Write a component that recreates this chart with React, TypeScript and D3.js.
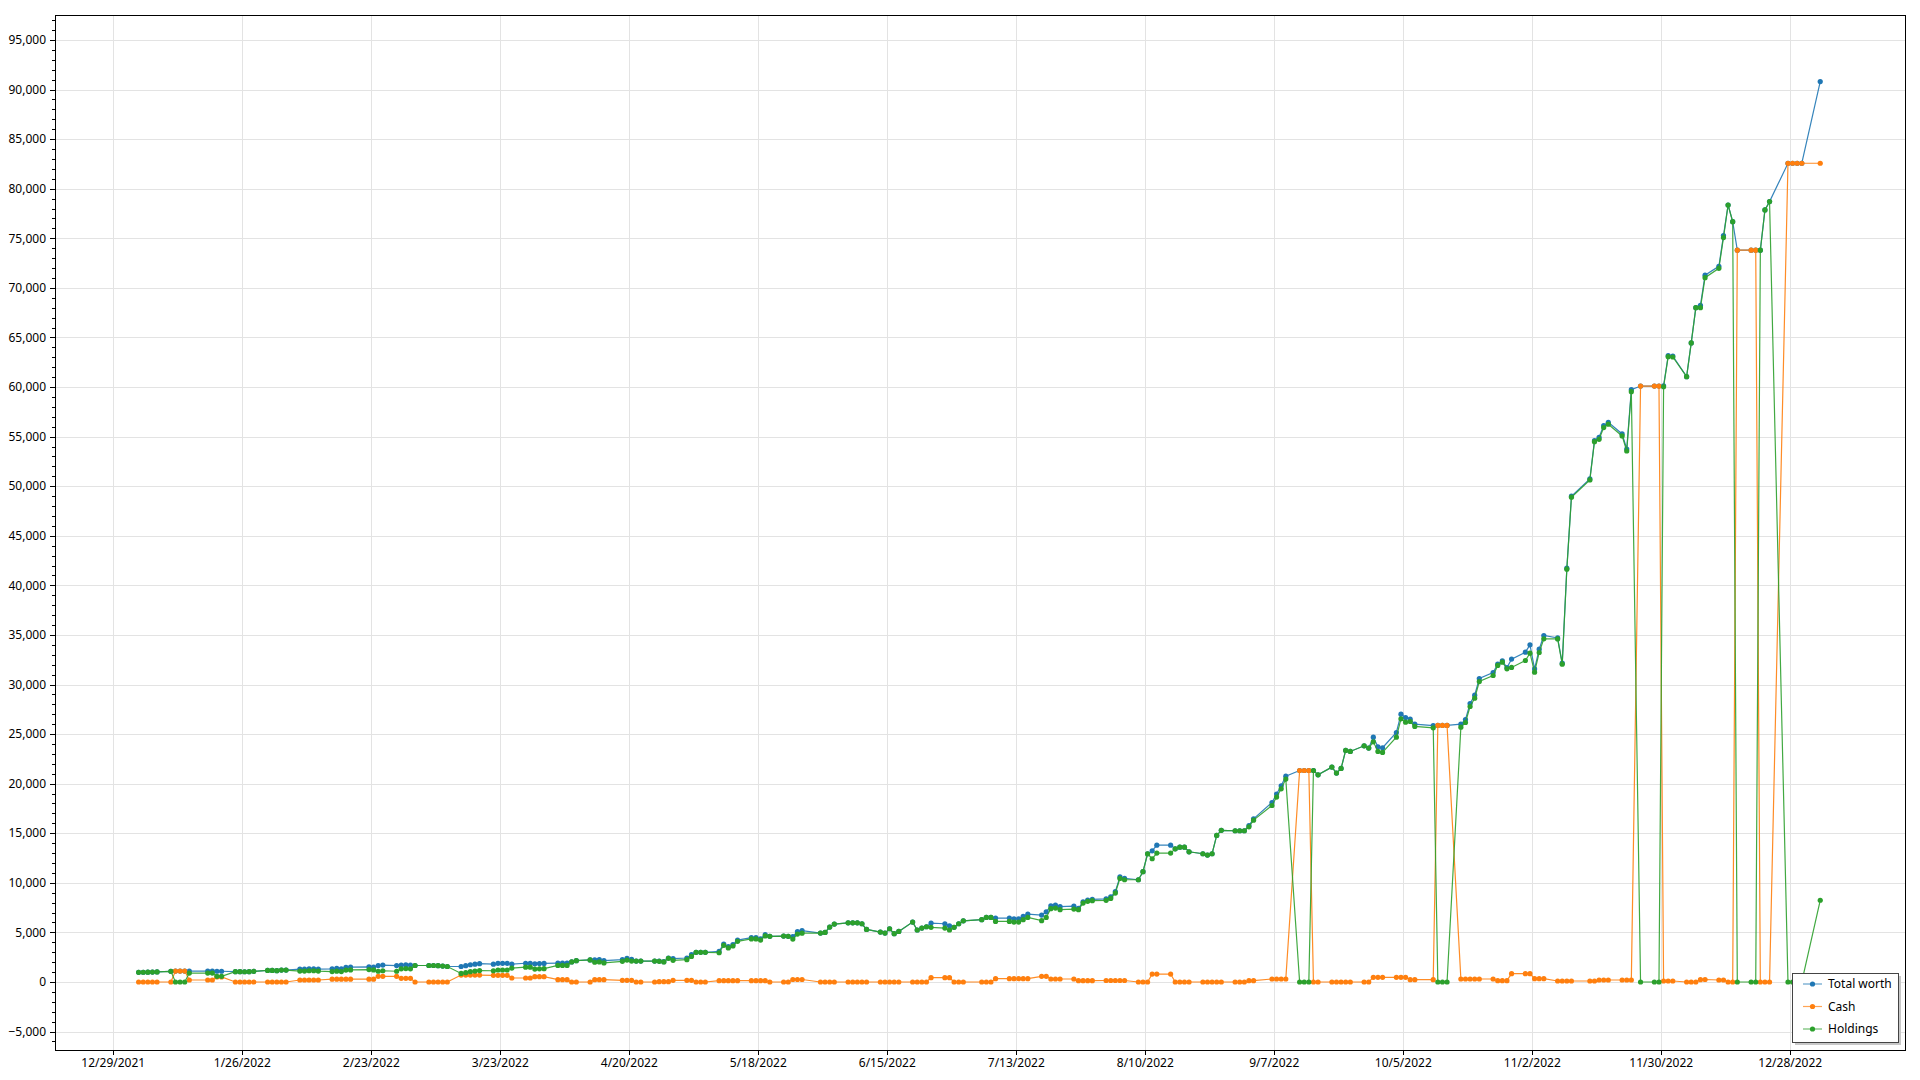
import React from "react";
import * as d3 from "d3";

const W = 1920;
const H = 1080;
const plot = { left: 55, top: 15, right: 1905, bottom: 1050 };

// trading days present in the export, by month
const tradingDays: [string, number[]][] = [
  ["2022-01", [3, 4, 5, 6, 7, 10, 11, 12, 13, 14, 18, 19, 20, 21, 24, 25, 26, 27, 28, 31]],
  ["2022-02", [1, 2, 3, 4, 7, 8, 9, 10, 11, 14, 15, 16, 17, 18, 22, 23, 24, 25, 28]],
  ["2022-03", [1, 2, 3, 4, 7, 8, 9, 10, 11, 14, 15, 16, 17, 18, 21, 22, 23, 24, 25, 28, 29, 30, 31]],
  ["2022-04", [1, 4, 5, 6, 7, 8, 11, 12, 13, 14, 18, 19, 20, 21, 22, 25, 26, 27, 28, 29]],
  ["2022-05", [2, 3, 4, 5, 6, 9, 10, 11, 12, 13, 16, 17, 18, 19, 20, 23, 24, 25, 26, 27, 31]],
  ["2022-06", [1, 2, 3, 6, 7, 8, 9, 10, 13, 14, 15, 16, 17, 20, 21, 22, 23, 24, 27, 28, 29, 30]],
  ["2022-07", [1, 5, 6, 7, 8, 11, 12, 13, 14, 15, 18, 19, 20, 21, 22, 25, 26, 27, 28, 29]],
  ["2022-08", [1, 2, 3, 4, 5, 8, 9, 10, 11, 12, 15, 16, 17, 18, 19, 22, 23, 24, 25, 26, 29, 30, 31]],
  ["2022-09", [1, 2, 6, 7, 8, 9, 12, 13, 14, 15, 16, 19, 20, 21, 22, 23, 26, 27, 28, 29, 30]],
  ["2022-10", [3, 4, 5, 6, 7, 11, 12, 13, 14, 17, 18, 19, 20, 21, 24, 25, 26, 27, 28, 31]],
  ["2022-11", [1, 2, 3, 4, 7, 8, 9, 10, 14, 15, 16, 17, 18, 21, 22, 23, 25, 28, 29, 30]],
  ["2022-12", [1, 2, 5, 6, 7, 8, 9, 12, 13, 14, 15, 16, 19, 20, 21, 22, 23, 27, 28, 29, 30]],
  ["2023-01", [3]],
];

const totalWorth: number[] = [
  // jan
  970, 980, 990, 1000, 1010, 1070, 1100, 1100, 1100, 1100, 1100, 1100, 1080, 1080, 1040, 1040, 1030, 1040, 1070, 1170,
  // feb
  1170, 1140, 1200, 1200, 1300, 1300, 1330, 1330, 1300, 1330, 1370, 1330, 1480, 1500, 1530, 1500, 1650, 1700, 1650,
  // mar
  1700, 1720, 1700, 1660, 1660, 1660, 1640, 1600, 1560, 1560, 1640, 1740, 1800, 1850, 1800, 1880, 1880, 1880, 1800, 1890, 1890, 1830, 1860,
  // apr
  1870, 1900, 1900, 1900, 2020, 2150, 2220, 2220, 2250, 2150, 2250, 2380, 2280, 2110, 2110, 2110, 2110, 2050, 2420, 2350,
  // may
  2420, 2750, 2990, 2990, 2990, 3080, 3830, 3560, 3760, 4230, 4470, 4470, 4360, 4770, 4600, 4630, 4600, 4580, 5080, 5170, 4930,
  // jun
  5000, 5540, 5840, 5970, 5970, 5970, 5870, 5300, 5030, 4930, 5370, 4870, 5100, 6040, 5240, 5440, 5570, 5940, 5870, 5670, 5510, 5870,
  // jul
  6170, 6280, 6510, 6510, 6440, 6440, 6370, 6370, 6610, 6840, 6750, 7080, 7690, 7750, 7590, 7650, 7420, 8090, 8260, 8330,
  // aug
  8380, 8580, 9120, 10590, 10460, 10310, 11120, 12930, 13230, 13800, 13800, 13430, 13600, 13600, 13130, 12930, 12800, 12930, 14780, 15290, 15250, 15250, 15250,
  // sep
  15780, 16450, 18100, 18950, 19780, 20760, 21330, 21330, 21330, 21330, 20890, 21670, 21070, 21540, 23350, 23250, 23820, 23590, 24690, 23720, 23620,
  // oct
  25160, 27010, 26670, 26500, 26000, 25860, 25870, 25870, 25870, 26000, 26470, 28080, 28920, 30600, 31210, 32050, 32380, 31710, 32560, 33260,
  // nov
  34000, 31570, 33560, 34940, 34700, 32150, 41730, 48990, 50730, 54590, 54930, 56110, 56450, 55270, 53750, 59730, 60100, 60100, 60100, 60130,
  // dec
  63160, 63130, 61050, 64450, 68000, 68230, 71280, 72170, 75270, 78360, 76680, 73800, 73800, 73800, 73800, 77860, 78700, 82570, 82570, 82570, 82570,
  // jan 2023
  90810,
];

const cash: number[] = [
  0, 0, 0, 0, 0, 0, 1100, 1100, 1100, 200, 200, 200, 510, 510, 0, 0, 0, 0, 0, 0,
  0, 0, 0, 0, 200, 200, 200, 200, 200, 280, 280, 280, 280, 280, 280, 280, 570, 570, 570,
  370, 370, 370, 0, 0, 0, 0, 0, 0, 700, 700, 700, 700, 700, 670, 670, 670, 670, 400, 400, 400, 530, 530,
  530, 230, 230, 230, 0, 0, 0, 230, 230, 230, 170, 170, 170, 0, 0, 0, 30, 30, 30, 170,
  170, 170, 0, 0, 0, 130, 130, 130, 130, 130, 130, 130, 130, 130, 0, 0, 0, 250, 250, 250, 0,
  0, 0, 0, 0, 0, 0, 0, 0, 0, 0, 0, 0, 0, 0, 0, 0, 0, 430, 430, 430, 0, 0,
  0, 0, 0, 0, 330, 330, 330, 330, 330, 330, 570, 570, 300, 300, 300, 300, 130, 130, 130, 130,
  150, 150, 150, 150, 150, 0, 0, 0, 800, 800, 800, 0, 0, 0, 0, 0, 0, 0, 0, 0, 0, 0, 0,
  130, 130, 300, 300, 300, 300, 21330, 21330, 21330, 0, 0, 0, 0, 0, 0, 0, 0, 0, 470, 470, 470,
  470, 470, 470, 230, 230, 230, 25870, 25870, 25870, 300, 300, 300, 300, 300, 300, 130, 130, 130, 840, 840,
  840, 330, 330, 330, 100, 100, 100, 100, 100, 100, 200, 200, 200, 200, 200, 200, 60100, 60100, 60100, 100,
  100, 100, 0, 0, 0, 230, 250, 200, 200, 0, 0, 73800, 73800, 73800, 0, 0, 0, 82570, 82570, 82570, 82570,
  82570,
];

const holdings: number[] = [
  970, 980, 990, 1000, 1010, 1070, 0, 0, 0, 900, 900, 900, 570, 570, 1040, 1040, 1030, 1040, 1070, 1170,
  1170, 1140, 1200, 1200, 1100, 1100, 1130, 1130, 1100, 1050, 1090, 1050, 1200, 1220, 1250, 1220, 1080, 1130, 1080,
  1330, 1350, 1330, 1660, 1660, 1660, 1640, 1600, 1560, 860, 940, 1040, 1100, 1150, 1130, 1210, 1210, 1210, 1400, 1490, 1490, 1300, 1330,
  1340, 1670, 1670, 1670, 2020, 2150, 2220, 1990, 2020, 1920, 2080, 2210, 2110, 2110, 2110, 2110, 2080, 2020, 2390, 2180,
  2250, 2580, 2990, 2990, 2990, 2950, 3700, 3430, 3630, 4100, 4340, 4340, 4230, 4640, 4600, 4630, 4600, 4330, 4830, 4920, 4930,
  5000, 5540, 5840, 5970, 5970, 5970, 5870, 5300, 5030, 4930, 5370, 4870, 5100, 6040, 5240, 5440, 5570, 5510, 5440, 5240, 5510, 5870,
  6170, 6280, 6510, 6510, 6110, 6110, 6040, 6040, 6280, 6510, 6180, 6510, 7390, 7450, 7290, 7350, 7290, 7960, 8130, 8200,
  8230, 8430, 8970, 10440, 10310, 10310, 11120, 12930, 12430, 13000, 13000, 13430, 13600, 13600, 13130, 12930, 12800, 12930, 14780, 15290, 15250, 15250, 15250,
  15650, 16320, 17800, 18650, 19480, 20460, 0, 0, 0, 21330, 20890, 21670, 21070, 21540, 23350, 23250, 23820, 23590, 24220, 23250, 23150,
  24690, 26540, 26200, 26270, 25770, 25630, 0, 0, 0, 25700, 26170, 27780, 28620, 30300, 30910, 31920, 32250, 31580, 31720, 32420,
  33160, 31240, 33230, 34610, 34600, 32050, 41630, 48890, 50630, 54490, 54730, 55910, 56250, 55070, 53550, 59530, 0, 0, 0, 60030,
  63060, 63030, 61050, 64450, 68000, 68000, 71030, 71970, 75070, 78360, 76680, 0, 0, 0, 73800, 77860, 78700, 0, 0, 0, 0,
  8240,
];

const seriesNames = ["Total worth", "Cash", "Holdings"];
const seriesColors = ["#1f77b4", "#ff7f0e", "#2ca02c"];

const DAY = 86400000;
const firstTick = Date.UTC(2021, 11, 29);

const dates = tradingDays.flatMap(([ym, days]) =>
  days.map((d) => new Date(Date.UTC(+ym.slice(0, 4), +ym.slice(5) - 1, d, 12)))
);

const font = "'Segoe UI', 'Noto Sans', sans-serif";

export default function App() {
  const x = d3
    .scaleUtc()
    .domain([new Date(firstTick - 12.65 * DAY), new Date(firstTick + 388.9 * DAY)])
    .range([plot.left, plot.right]);
  const y = d3.scaleLinear().domain([-6860, 97520]).range([plot.bottom, plot.top]);

  const xTicks = d3.range(0, 365, 28).map((i) => new Date(firstTick + i * DAY));
  const yTicks = d3.range(-5000, 95001, 5000);
  const yMinor = d3.range(-6000, 97001, 1000).filter((v) => v % 5000 !== 0);
  const fmtDate = d3.utcFormat("%-m/%-d/%Y");
  const fmtNum = d3.format(",");

  const series = [totalWorth, cash, holdings];
  const line = d3
    .line<number>()
    .x((_, i) => x(dates[i]))
    .y((v) => y(v));

  const lg = { x: 1792, y: 973, w: 106, h: 69 };

  return (
    <svg
      width={W}
      height={H}
      style={{ position: "absolute", left: 0, top: 0, background: "#fff" }}
      fontFamily={font}
      fontSize={12}
    >
      <rect width={W} height={H} fill="#fff" />
      <clipPath id="plotClip">
        <rect x={plot.left} y={plot.top} width={plot.right - plot.left} height={plot.bottom - plot.top} />
      </clipPath>

      {/* grid */}
      <g stroke="#e3e3e3" strokeWidth={1}>
        {yTicks.map((v) => (
          <line key={v} x1={plot.left} x2={plot.right} y1={Math.round(y(v)) + 0.5} y2={Math.round(y(v)) + 0.5} />
        ))}
        {xTicks.map((d) => (
          <line key={+d} y1={plot.top} y2={plot.bottom} x1={Math.round(x(d)) + 0.5} x2={Math.round(x(d)) + 0.5} />
        ))}
      </g>

      {/* series */}
      <g clipPath="url(#plotClip)">
        {series.map((vals, s) => (
          <g key={s}>
            <path d={line(vals) || ""} fill="none" stroke={seriesColors[s]} strokeWidth={1.2} strokeOpacity={0.9} />
            {vals.map((v, i) => (
              <circle key={i} cx={x(dates[i])} cy={y(v)} r={2.6} fill={seriesColors[s]} />
            ))}
          </g>
        ))}
      </g>

      {/* frame */}
      <rect
        x={plot.left + 0.5}
        y={plot.top + 0.5}
        width={plot.right - plot.left}
        height={plot.bottom - plot.top}
        fill="none"
        stroke="#000"
        strokeWidth={1}
      />

      {/* y axis */}
      <g stroke="#000" strokeWidth={1}>
        {yTicks.map((v) => (
          <line key={v} x1={plot.left - 5} x2={plot.left} y1={Math.round(y(v)) + 0.5} y2={Math.round(y(v)) + 0.5} />
        ))}
        {yMinor.map((v) => (
          <line key={v} x1={plot.left - 3} x2={plot.left} y1={Math.round(y(v)) + 0.5} y2={Math.round(y(v)) + 0.5} />
        ))}
      </g>
      {yTicks.map((v) => (
        <text key={v} x={plot.left - 9} y={y(v)} dy="0.35em" textAnchor="end" fill="#000">
          {fmtNum(v)}
        </text>
      ))}

      {/* x axis */}
      <g stroke="#000" strokeWidth={1}>
        {xTicks.map((d) => (
          <line
            key={+d}
            x1={Math.round(x(d)) + 0.5}
            x2={Math.round(x(d)) + 0.5}
            y1={plot.bottom}
            y2={plot.bottom + 5}
          />
        ))}
      </g>
      {xTicks.map((d) => (
        <text key={+d} x={x(d)} y={plot.bottom + 17} textAnchor="middle" fill="#000">
          {fmtDate(d)}
        </text>
      ))}

      {/* legend */}
      <rect x={lg.x + 3} y={lg.y + 3} width={lg.w} height={lg.h} fill="#c8c8c8" />
      <rect x={lg.x + 0.5} y={lg.y + 0.5} width={lg.w} height={lg.h} fill="#fff" stroke="#444" strokeWidth={1} />
      {seriesNames.map((name, i) => {
        const cy = lg.y + 11 + i * 22.5;
        return (
          <g key={name}>
            <line x1={lg.x + 11} x2={lg.x + 30} y1={cy} y2={cy} stroke={seriesColors[i]} strokeWidth={1.2} strokeOpacity={0.7} />
            <circle cx={lg.x + 20.5} cy={cy} r={2.6} fill={seriesColors[i]} />
            <text x={lg.x + 36} y={cy} dy="0.35em" fill="#000">
              {name}
            </text>
          </g>
        );
      })}
    </svg>
  );
}
